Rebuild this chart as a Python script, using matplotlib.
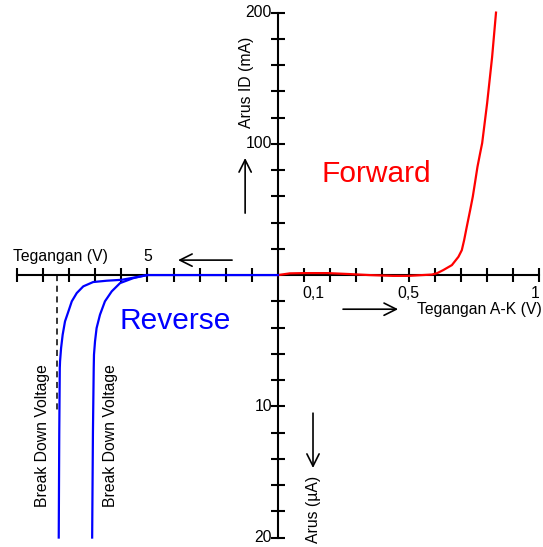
import numpy as np
import matplotlib.pyplot as plt

plt.rcParams['font.family'] = ['Liberation Sans', 'DejaVu Sans']

# Forward characteristic (V, mA)
forward_v = [0.0, 0.045, 0.1, 0.19, 0.27, 0.35, 0.44, 0.5, 0.59, 0.61,
             0.633, 0.666, 0.691, 0.704, 0.713, 0.723, 0.736, 0.746, 0.755,
             0.764, 0.774, 0.782, 0.801, 0.82, 0.835]
forward_ma = [0.0, 1.3, 1.5, 1.5, 0.8, 0.0, -0.6, -0.6, 0.4, 1.5,
              3.8, 7.6, 13.9, 19.0, 26.7, 36.8, 49.5, 59.7, 71.0,
              82.5, 92.7, 100.6, 131.0, 166.0, 200.0]

# Reverse characteristics (V, uA), two diodes with different break down voltage
reverse1_v = [0.0, -5.03, -5.54, -6.05, -6.37, -6.63, -6.82, -6.95, -7.01,
              -7.05, -7.06, -7.09, -7.12]
reverse1_ua = [0.0, 0.0, -0.23, -0.61, -1.24, -2.0, -3.02, -4.04, -5.05,
               -6.07, -7.09, -12.0, -20.0]
reverse2_v = [-5.0, -5.29, -5.99, -6.56, -7.08, -7.46, -7.71, -7.90, -8.03,
              -8.16, -8.25, -8.31, -8.35, -8.36, -8.38, -8.40]
reverse2_ua = [0.0, -0.11, -0.36, -0.43, -0.53, -0.86, -1.37, -2.0, -2.77,
               -3.53, -4.55, -5.56, -6.58, -7.09, -12.0, -20.0]
breakdown_v = -8.45
breakdown_ua = -10.5

# one grid unit = one tick on each half axis
fwd_v_step, fwd_i_step = 0.1, 20.0
rev_v_step, rev_i_step = 1.0, 2.0

fig = plt.figure(figsize=(5.43, 5.47), dpi=100)
ax = fig.add_axes([0, 0, 1, 1])
ax.set_xlim(-10.65, 10.15)
ax.set_ylim(-10.36, 10.48)

for side in ['top', 'right']:
    ax.spines[side].set_visible(False)
for side in ['left', 'bottom']:
    ax.spines[side].set_position('zero')
    ax.spines[side].set_linewidth(1.5)
    ax.spines[side].set_bounds(-10, 10)
ticks = [t for t in range(-10, 11) if t != 0]
ax.set_xticks(ticks)
ax.set_yticks(ticks)
ax.set_xticklabels([])
ax.set_yticklabels([])
ax.tick_params(direction='inout', length=10, width=1.5)

ax.plot(np.array(forward_v) / fwd_v_step, np.array(forward_ma) / fwd_i_step,
        color='#ff0000', lw=1.6, zorder=3)
ax.plot(np.array(reverse1_v) / rev_v_step, np.array(reverse1_ua) / rev_i_step,
        color='#0000ff', lw=1.6, zorder=3)
ax.plot(np.array(reverse2_v) / rev_v_step, np.array(reverse2_ua) / rev_i_step,
        color='#0000ff', lw=1.6, zorder=3)
ax.plot([breakdown_v, breakdown_v], [0, breakdown_ua / rev_i_step],
        color='black', lw=1.1, ls=(0, (4, 3)), zorder=2)

fs = 11.3
ax.text(-0.23, 200 / fwd_i_step, '200', ha='right', va='center', fontsize=fs)
ax.text(-0.23, 100 / fwd_i_step, '100', ha='right', va='center', fontsize=fs)
ax.text(-0.23, -10 / rev_i_step, '10', ha='right', va='center', fontsize=fs)
ax.text(-0.23, -20 / rev_i_step, '20', ha='right', va='center', fontsize=fs)
ax.text(-5 / rev_v_step, 0.69, '5', ha='center', va='center', fontsize=fs)
ax.text(1.34, -0.69, '0,1', ha='center', va='center', fontsize=fs)
ax.text(0.5 / fwd_v_step, -0.69, '0,5', ha='center', va='center', fontsize=fs)
ax.text(9.85, -0.69, '1', ha='center', va='center', fontsize=fs)

ax.text(-1.19, 7.35, 'Arus ID (mA)', rotation=90, ha='center', va='center', fontsize=fs)
ax.text(1.34, -8.91, 'Arus (µA)', rotation=90, ha='center', va='center', fontsize=fs)
ax.text(-10.15, 0.69, 'Tegangan (V)', ha='left', va='center', fontsize=fs)
ax.text(5.33, -1.33, 'Tegangan A-K (V)', ha='left', va='center', fontsize=fs)
ax.text(-9.04, -6.1, 'Break Down Voltage', rotation=90, ha='center', va='center', fontsize=fs)
ax.text(-6.4, -6.1, 'Break Down Voltage', rotation=90, ha='center', va='center', fontsize=fs)

ax.text(3.75, 3.85, 'Forward', color='#ff0000', ha='center', va='center', fontsize=21.5)
ax.text(-3.95, -1.75, 'Reverse', color='#0000ff', ha='center', va='center', fontsize=21.5)

arrow = dict(arrowstyle='->', lw=1.2, color='black', mutation_scale=22,
             shrinkA=0, shrinkB=0)
ax.annotate('', xy=(-1.26, 4.46), xytext=(-1.26, 2.36), arrowprops=arrow)
ax.annotate('', xy=(-3.83, 0.57), xytext=(-1.76, 0.57), arrowprops=arrow)
ax.annotate('', xy=(4.6, -1.3), xytext=(2.49, -1.3), arrowprops=arrow)
ax.annotate('', xy=(1.34, -7.35), xytext=(1.34, -5.26), arrowprops=arrow)

fig.savefig('out.png', dpi=100)
